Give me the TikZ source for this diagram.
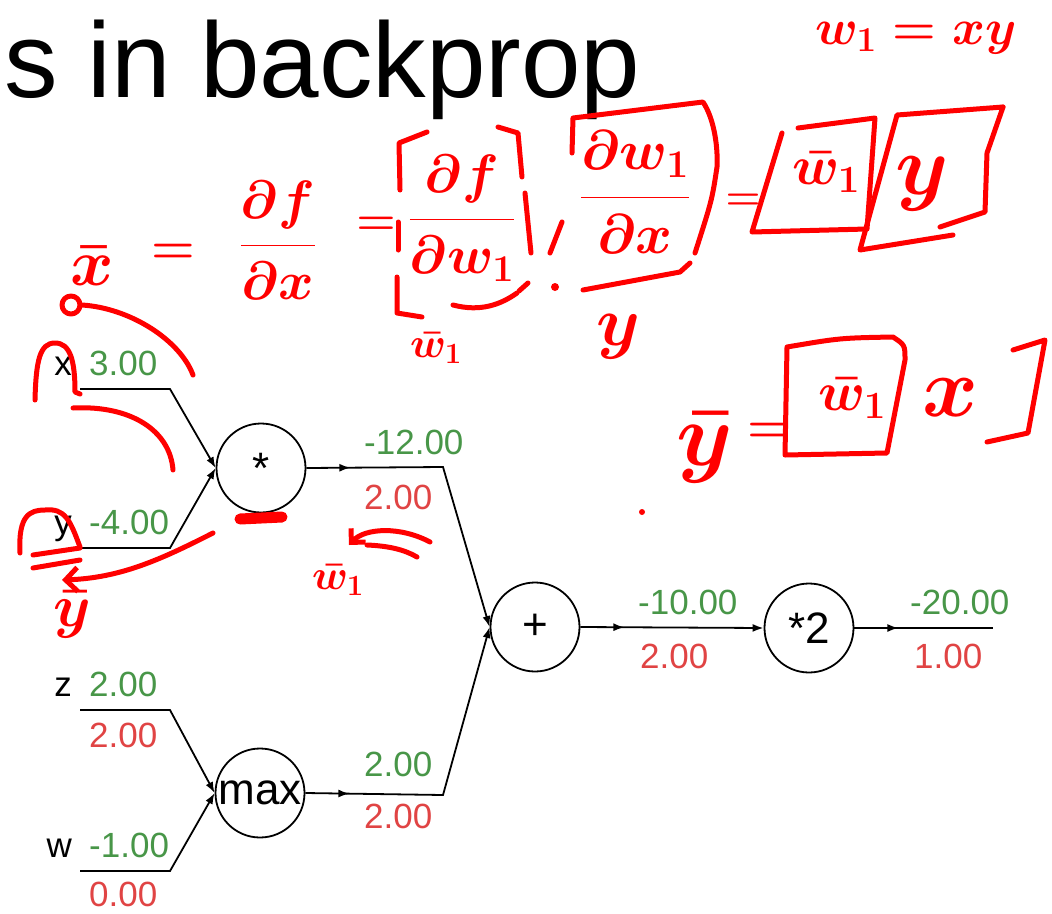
\RequirePackage{fix-cm}
\documentclass[tikz,border=0pt]{standalone}
\usepackage{fontspec}
\setmainfont{Liberation Sans}
\usetikzlibrary{positioning,arrows.meta,decorations.markings}

\definecolor{fwdgreen}{RGB}{72,150,72}
\definecolor{bwdred}{RGB}{224,68,68}
\definecolor{penred}{RGB}{255,0,0}

\tikzset{
  gate/.style={draw,circle,line width=1.8pt,minimum size=89pt,inner sep=0pt,
    font=\fontsize{44}{44}\selectfont},
  wire/.style={line width=1.8pt},
  intip/.style={-{Latex[length=11pt,width=8pt]}},
  midtip/.style={postaction={decorate},decoration={markings,
    mark=at position 44pt with {\arrow{Latex[length=11pt,width=8pt]}}}},
  varname/.style={anchor=base east,inner sep=0pt,font=\fontsize{35}{35}\selectfont},
  fwdval/.style={anchor=base west,inner sep=0pt,text=fwdgreen,
    font=\fontsize{35}{35}\selectfont},
  bwdval/.style={fwdval,text=bwdred},
  ink/.style={draw=penred,line width=5pt,line cap=round,line join=round},
  scrawl/.style={text=penred,inner sep=0pt,font=\fontsize{#1}{#1}\selectfont\boldmath},
  scrawl/.default=60,
}

\begin{document}
\begin{tikzpicture}[x=1pt,y=-1pt]
\useasboundingbox (0,0) rectangle (1052,913);

% title
\node[anchor=base west,inner sep=0pt,font=\fontsize{107}{107}\selectfont]
  (title) at (4,97) {s in backprop};

% gates
\node[gate] (mul) at (261,468) {*};
\node[gate] (add) at (535,627) {+};
\node[gate] (dbl) at (809,628) {*2};
\node[gate] (mx) at (260,793) {max};

% inputs
\foreach \v/\yy/\val/\g in {x/389/3.00/mul, y/548/-4.00/mul, z/710/2.00/mx, w/871/-1.00/mx}{
  \node[varname] (\v name) at (72,\yy-14) {\v};
  \node[fwdval] (\v val) at (89,\yy-14) {\val};
  \coordinate (\v start) at (80,\yy);
  \coordinate (\v bend) at (170,\yy);
  \draw[wire,intip] (\v start) -- (\v bend) -- (\g.west);
}
\node[bwdval] (zgrad) at (89,747) {2.00};
\node[bwdval] (wgrad) at (89,906) {0.00};

% outputs
\coordinate (mulbend) at (443,467);
\coordinate (mxbend) at (443,795);
\coordinate (outend) at (993,628);
\draw[wire,intip,midtip] (mul.east) -- (mulbend) -- (add.west);
\draw[wire,intip,midtip] (mx.east) -- (mxbend) -- (add.west);
\draw[wire,intip,midtip] (add.east) -- (dbl.west);
\draw[wire,midtip] (dbl.east) -- (outend);

\node[fwdval] (mulval) at (364,454) {-12.00};
\node[bwdval] (mulgrad) at (364,509) {2.00};
\node[fwdval] (mxval) at (364,776) {2.00};
\node[bwdval] (mxgrad) at (364,828) {2.00};
\node[fwdval] (addval) at (638,614) {-10.00};
\node[bwdval] (addgrad) at (640,668) {2.00};
\node[fwdval] (dblval) at (910,614) {-20.00};
\node[bwdval] (dblgrad) at (914,668) {1.00};

% handwritten notes
\node[scrawl=50] (wdef) at (916,38) {$w_1=xy$};
\node[scrawl=66] (xbar) at (92,266) {$\bar{x}$};
\node[scrawl=50] (eqa) at (173,254) {$=$};
\node[scrawl=54] (dfdx) at (278,240) {$\displaystyle\frac{\partial f}{\partial x}$};
\node[scrawl=45] (eqb) at (376,226) {$=$};
\node[scrawl=54] (dfdw) at (462,218) {$\displaystyle\frac{\partial f}{\partial w_1}$};
\node[scrawl=56] (dwdx) at (635,192) {$\displaystyle\frac{\partial w_1}{\partial x}$};
\node[scrawl=40] (eqc) at (743,202) {$=$};
\node[scrawl=55] (wbara) at (826,172) {$\bar{w}_1$};
\node[scrawl=85] (ya) at (922,184) {$y$};
\node[scrawl=42] (wbarb) at (436,348) {$\bar{w}_1$};
\node[scrawl=70] (yb) at (618,337) {$y$};
\node[scrawl=90] (ybar) at (705,448) {$\bar{y}$};
\node[scrawl=50] (eqd) at (769,433) {$=$};
\node[scrawl=55] (wbarc) at (852,398) {$\bar{w}_1$};
\node[scrawl=85] (xa) at (950,398) {$x$};
\node[scrawl=60] (ybarb) at (72,615) {$\bar{y}$};
\node[scrawl=42] (wbard) at (338,580) {$\bar{w}_1$};

% boxes and brackets
\draw[ink] (427,132) -- (399,143) -- (400,190);
\draw[ink] (398,222) -- (398,250);
\draw[ink] (397,277) -- (397,313) -- (422,317);
\draw[ink] (498,127) -- (518,133) -- (522,177);
\draw[ink] (525,193) -- (531,253);
\draw[ink] (453,305) .. controls (480,312) and (500,305) .. (517,293);
\draw[ink] (519,291) -- (528,283);
\draw[ink] (562,222) -- (550,253);
\fill[penred] (555,287) circle (4pt);
\draw[ink] (572,153) -- (573,118) -- (703,102) .. controls (715,120) and (718,150) .. (717,167)
  .. controls (712,200) .. (695,253);
\draw[ink] (583,290) -- (680,272) -- (690,263);
\draw[ink] (782,133) -- (752,232) -- (867,229) -- (875,118) -- (798,128);
\draw[ink] (1003,107) -- (897,115) -- (860,250) -- (953,235);
\draw[ink] (1003,107) -- (987,153) -- (985,212) -- (940,227);
\draw[ink] (787,347) .. controls (840,338) .. (893,337) .. controls (905,345) .. (905,360)
  -- (887,453) -- (785,455) -- cycle;
\draw[ink] (1013,350) -- (1045,340) -- (1028,433) -- (987,442);
\fill[penred] (642,512) circle (3pt);

% strokes round the graph
\draw[ink] (35,400) .. controls (36,360) and (40,343) .. (55,343)
  .. controls (70,343) and (75,360) .. (75,392) -- (80,394);
\draw[ink] (73,408) .. controls (130,405) and (170,430) .. (173,470);
\draw[ink] (71,305) circle (9pt);
\draw[ink] (82,305) .. controls (130,308) and (180,340) .. (193,375);
\draw[ink] (20,553) .. controls (18,515) and (30,510) .. (45,510)
  .. controls (65,508) and (70,520) .. (80,547);
\draw[ink] (33,555) -- (80,548);
\draw[ink] (33,568) -- (80,560);
\draw[ink,-{Straight Barb[length=12pt]}] (213,533) .. controls (160,560) and (120,578) .. (62,580);
\draw[ink,line width=11pt] (240,519) -- (282,517);
\draw[ink,-{Straight Barb[length=10pt]}] (430,542) .. controls (400,526) and (365,528) .. (349,545);
\draw[ink] (367,545) .. controls (390,546) and (405,550) .. (417,557);
\end{tikzpicture}
\end{document}
